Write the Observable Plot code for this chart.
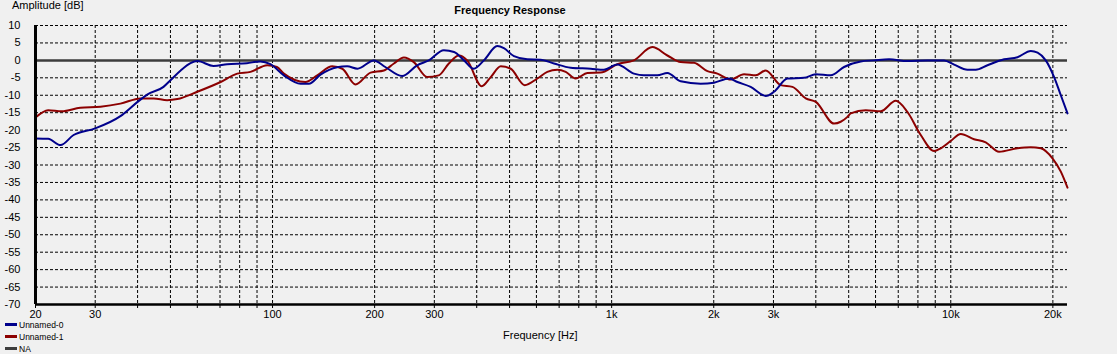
<!DOCTYPE html>
<html>
<head>
<meta charset="utf-8">
<script src="https://cdn.jsdelivr.net/npm/d3@7"></script>
<script src="https://cdn.jsdelivr.net/npm/@observablehq/plot@0.6"></script>
<style>
  html, body { margin: 0; padding: 0; background: #f0f0f0; }
  #wrap { position: relative; width: 1117px; height: 354px; font-family: "Liberation Sans", Arial, sans-serif; color: #000; overflow: hidden; }
  #wrap svg { position: absolute; left: 0; top: 0; }
  .t { position: absolute; white-space: nowrap; font-size: 11px; line-height: 11px; }
  .title { font-weight: bold; }
  .leg { position: absolute; left: 5px; font-size: 8.5px; line-height: 10px; white-space: nowrap; }
  .leg span.sw { display: inline-block; width: 12px; height: 3px; vertical-align: middle; margin-right: 2px; position: relative; top: -1px; }
</style>
</head>
<body>
<div id="wrap"></div>
<script>
// ---- data ----
const seriesNames = ["Unnamed-0", "Unnamed-1", "NA"];
const seriesColors = ["#00008c", "#8c0000", "#3c3c3c"];

// Unnamed-0 (blue)
const freq0 = [20, 21.8, 23.7, 25.9, 30, 35.6, 40, 42.7, 47.7, 50, 53.6, 57.3, 60, 67, 73.5, 84, 92, 98.6,
  108, 121, 128, 138.5, 155, 166, 178, 199, 215, 241, 267, 289, 320, 343, 367, 392, 420, 460, 481, 515, 564,
  617, 676, 757, 867, 949, 1039, 1163, 1245, 1364, 1460, 1598, 1830, 2004, 2218, 2349, 2570, 2847, 3012,
  3299, 3692, 4000, 4426, 4845, 5426, 5939, 6577, 7453, 8536, 9556, 10230, 11200, 11850, 12830, 14360,
  15730, 17220, 18030, 19060, 20170, 21110, 22090];
const db0 = [-22.4, -22.5, -24.3, -21.4, -19.5, -16, -11.9, -9.8, -7.6, -5.7, -2.9, -0.8, -0.2, -1.6, -1.1, -0.8, -0.3, -1.1,
  -4.3, -6.7, -6.7, -4.1, -2.0, -1.7, -2.4, 0, -1.9, -4.5, -1.4, 0, 2.9, 2.4, 0, -2.4, 0, 4.1, 3.5, 1.2, 0.3,
  0.2, -0.9, -2.1, -2.4, -2.7, -1.2, -3.8, -4.3, -4.3, -3.6, -6.0, -6.7, -6.4, -5.2, -6.2, -7.6, -10.2, -9.0,
  -5.2, -5.0, -4.0, -4.3, -1.9, -0.3, 0, 0.3, -0.2, 0, 0, -1.2, -2.7, -2.7, -1.4, 0.3,
  0.9, 2.7, 2.2, 0, -4.8, -10, -15.2];

// Unnamed-1 (red)
const freq1 = [20, 21.8, 23.9, 27.1, 31.1, 35.6, 40.8, 44.6, 48.9, 52.4, 60, 70.3, 78.7, 86.1, 96.5, 103,
  108, 125, 135.5, 150, 160.6, 175.7, 194.6, 213, 228, 244, 261, 286, 309, 331, 354.5, 375, 414, 440, 471,
  504, 554, 604, 646, 692, 732, 783, 848, 928, 1039, 1163, 1318, 1460, 1598, 1749, 1916, 2050, 2244, 2457,
  2660, 2847, 3151, 3412, 3735, 4000, 4527, 4737, 4958, 5070, 5615, 6217, 6882, 7453, 8156, 8929, 9344,
  10000, 10700, 11710, 12680, 13880, 15730, 17220, 18430, 19950, 21110, 22090];
const db1 = [-16.4, -14.3, -14.6, -13.6, -13.3, -12.4, -10.9, -10.9, -11.4, -11.1, -9.0, -6.2, -3.8, -3.3, -1.4, -1.9,
  -3.8, -6.2, -4.3, -1.7, -2.4, -6.9, -3.5, -2.9, -0.9, 0.8, -0.5, -4.8, -4.3, -0.9, 1.4, 0, -7.4, -4.8, -1.7,
  -2.4, -7.1, -5.2, -3.3, -2.7, -3.3, -5.2, -3.6, -3.5, -1.1, 0, 3.8, 1.4, -0.5, -0.7, -3.1, -3.8, -5.5, -4.0,
  -4.3, -2.9, -7.1, -7.6, -10.9, -11.9, -18.1, -17.6, -16.2, -15.2, -14.3, -14.6, -11.6, -14.8, -21.4, -26, -25.2,
  -23.1, -21.1, -22.6, -23.5, -26.2, -25.2, -24.9, -25.2, -28.1, -31.9, -36.5];

// NA (reference line)
const naLevel = [0];

// axes
const xDomain = [20, 22090];
const yDomain = [-70, 10];
const xLabelTicks = [20, 30, 50, 70, 100, 200, 300, 500, 700, 1000, 2000, 3000, 5000, 7000, 10000, 20000];
const xAllTicks = [20, 30, 40, 50, 60, 70, 80, 90, 100, 200, 300, 400, 500, 600, 700, 800, 900,
  1000, 2000, 3000, 4000, 5000, 6000, 7000, 8000, 9000, 10000, 20000];
const xGrid = [30, 40, 50, 60, 70, 80, 90, 100, 200, 300, 400, 500, 600, 700, 800, 900,
  1000, 2000, 3000, 4000, 5000, 6000, 7000, 8000, 9000, 10000, 20000];
const yTicks = [10, 5, 0, -5, -10, -15, -20, -25, -30, -35, -40, -45, -50, -55, -60, -65, -70];
const yGrid = [10, 5, -5, -10, -15, -20, -25, -30, -35, -40, -45, -50, -55, -60, -65];

const title = "Frequency Response";
const yLabel = "Amplitude [dB]";
const xLabel = "Frequency [Hz]";

// ---- build ----
const data0 = freq0.map((f, i) => ({f, db: db0[i]}));
const data1 = freq1.map((f, i) => ({f, db: db1[i]}));
const labelSet = new Set(xLabelTicks);
const fmt = d => d >= 1000 ? (d / 1000) + "k" : String(d);

const chart = Plot.plot({
  width: 1117,
  height: 354,
  marginLeft: 35,
  marginRight: 50,
  marginTop: 25,
  marginBottom: 50,
  style: {background: "#f0f0f0", fontFamily: "Liberation Sans, Arial, sans-serif", fontSize: "11px", color: "#000"},
  x: {type: "log", domain: xDomain},
  y: {domain: yDomain},
  marks: [
    Plot.ruleY(yGrid, {stroke: "#000", strokeWidth: 1, strokeDasharray: "3,2"}),
    Plot.ruleX(xGrid, {stroke: "#000", strokeWidth: 1, strokeDasharray: "3,2"}),
    Plot.axisX({ticks: xAllTicks, tickSize: 4, tickPadding: 2, tickFormat: d => labelSet.has(d) ? fmt(d) : "", label: null, stroke: "#000"}),
    Plot.axisY({ticks: yTicks, tickSize: 0, tickPadding: 15, tickFormat: d => String(d), label: null}),
    Plot.ruleY(naLevel, {stroke: seriesColors[2], strokeWidth: 2.5}),
    Plot.line(data1, {x: "f", y: "db", stroke: seriesColors[1], strokeWidth: 2, curve: "monotone-x"}),
    Plot.line(data0, {x: "f", y: "db", stroke: seriesColors[0], strokeWidth: 2, curve: "monotone-x"}),
    Plot.ruleX([xDomain[0]], {stroke: "#000", strokeWidth: 3}),
    Plot.ruleY([yDomain[0]], {stroke: "#000", strokeWidth: 2.5})
  ]
});

const wrap = document.getElementById("wrap");
wrap.appendChild(chart);

function addText(txt, cls, left, top) {
  const d = document.createElement("div");
  d.className = cls;
  d.textContent = txt;
  d.style.left = left + "px";
  d.style.top = top + "px";
  wrap.appendChild(d);
  return d;
}
const tEl = addText(title, "t title", 0, 5);
tEl.style.left = (510 - tEl.getBoundingClientRect().width / 2) + "px";
addText(yLabel, "t", 12, 0);
addText(xLabel, "t", 503, 330);

seriesNames.forEach((name, i) => {
  const d = document.createElement("div");
  d.className = "leg";
  d.style.top = (320 + i * 12) + "px";
  const sw = document.createElement("span");
  sw.className = "sw";
  sw.style.background = seriesColors[i];
  d.appendChild(sw);
  d.appendChild(document.createTextNode(name));
  wrap.appendChild(d);
});
</script>
</body>
</html>
